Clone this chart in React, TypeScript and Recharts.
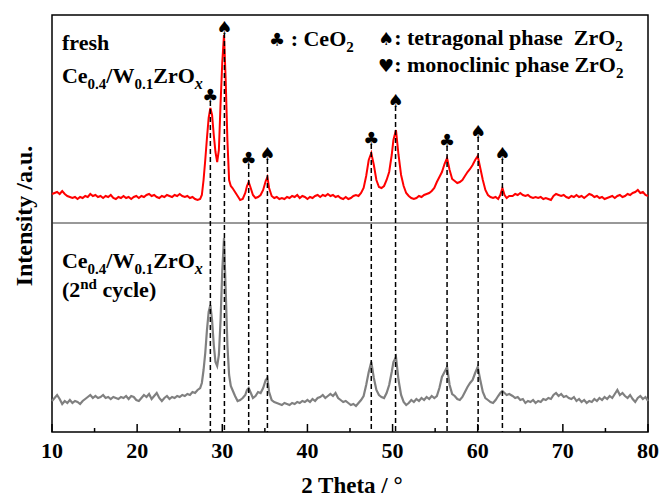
import React from "react";
import {
  ComposedChart, Line, XAxis, YAxis,
  ReferenceLine, ReferenceArea, ReferenceDot,
} from "recharts";

// 2θ grid (deg), shared by both patterns
const TWO_THETA = [
  10.0, 10.3, 10.6, 10.9, 11.2, 11.5, 11.8, 12.1, 12.4, 12.7,
  13.0, 13.3, 13.6, 13.9, 14.2, 14.5, 14.8, 15.1, 15.4, 15.7,
  16.0, 16.3, 16.6, 16.9, 17.2, 17.5, 17.8, 18.1, 18.4, 18.7,
  19.0, 19.3, 19.6, 19.9, 20.2, 20.5, 20.8, 21.1, 21.4, 21.7,
  22.0, 22.3, 22.6, 22.9, 23.2, 23.5, 23.8, 24.1, 24.4, 24.7,
  25.0, 25.3, 25.6, 25.9, 26.2, 26.5, 26.8, 27.1,
  27.4, 27.6, 27.8, 28.0, 28.2, 28.4, 28.6, 28.8, 29.0, 29.2,
  29.4, 29.6, 29.8, 30.0, 30.2, 30.4, 30.6, 30.8, 31.0, 31.2,
  31.5, 31.8, 32.1, 32.4, 32.7, 32.9, 33.1, 33.3, 33.6, 33.9,
  34.2, 34.5, 34.8, 35.1, 35.3, 35.5, 35.8, 36.1,
  36.4, 36.7, 37.0, 37.3, 37.6, 37.9, 38.2, 38.5, 38.8, 39.1,
  39.4, 39.7, 40.0, 40.3, 40.6, 40.9, 41.2, 41.5, 41.8, 42.1,
  42.4, 42.7, 43.0, 43.3, 43.6, 43.9, 44.2, 44.5, 44.8, 45.1,
  45.4, 45.7,
  46.0, 46.3, 46.6, 46.9, 47.2, 47.5, 47.8, 48.1, 48.4, 48.7,
  49.0, 49.3, 49.6, 49.9, 50.1, 50.4, 50.7, 51.0, 51.3, 51.6,
  51.9, 52.2, 52.5, 52.8, 53.1, 53.4, 53.7, 54.0, 54.3, 54.6,
  54.9, 55.2, 55.5, 55.8, 56.1, 56.4, 56.7, 57.0, 57.3, 57.6,
  57.9, 58.2, 58.5, 58.8, 59.1, 59.4, 59.7, 60.0, 60.3, 60.6,
  60.9, 61.2, 61.5, 61.8, 62.1, 62.4, 62.65, 62.9, 63.15, 63.4,
  63.7,
  64.1, 64.4, 64.7, 65.0, 65.3, 65.6, 65.9, 66.2, 66.5, 66.8,
  67.1, 67.4, 67.7, 68.0, 68.3, 68.6, 68.9, 69.2, 69.5, 69.8,
  70.1, 70.4, 70.7, 71.0, 71.3, 71.6, 71.9, 72.2, 72.5, 72.8,
  73.1, 73.4, 73.7, 74.0, 74.3, 74.6, 74.9, 75.2, 75.5, 75.8,
  76.1, 76.4, 76.7, 77.0, 77.3, 77.6, 77.9, 78.2, 78.5, 78.8,
  79.1, 79.4, 79.7, 80.0,
];

// fresh Ce0.4/W0.1ZrOx (red), already stacked above the other pattern
const FRESH = [
  238, 239, 240, 238, 241, 238, 236, 235, 234, 235,
  233, 235, 234, 236, 235, 238, 236, 237, 235, 236,
  234, 236, 235, 237, 234, 233, 235, 234, 236, 234,
  235, 233, 235, 236, 234, 236, 235, 237, 238, 236,
  237, 235, 234, 236, 235, 237, 236, 235, 237, 236,
  238, 236, 235, 236, 234, 235, 233, 232,
  233, 237, 252, 272, 294, 314, 324, 317, 297, 280,
  270, 282, 329, 370, 397, 352, 292, 252, 246, 244,
  240, 236, 232, 233, 239, 246, 250, 245, 237, 234,
  235, 237, 242, 251, 255, 244, 236, 234,
  235, 233, 234, 233, 235, 234, 236, 235, 237, 234,
  236, 235, 233, 235, 234, 236, 237, 235, 237, 236,
  238, 236, 237, 235, 236, 234, 233, 235, 233, 234,
  236, 237,
  236, 239, 244, 256, 272, 279, 267, 252, 245, 244,
  246, 252, 260, 277, 292, 302, 277, 257, 246, 239,
  236, 234, 233, 234, 236, 235, 237, 238, 239, 241,
  244, 250, 255, 260, 268, 274, 262, 253, 251, 249,
  250, 252, 256, 260, 263, 267, 272, 276, 264, 252,
  242, 237, 235, 234, 235, 233, 237, 244, 237, 234,
  236,
  236, 238, 237, 239, 237, 236, 237, 235, 234, 235,
  234, 235, 233, 234, 233, 232, 236, 238, 237, 236,
  237, 235, 234, 236, 235, 237, 235, 236, 234, 236,
  238, 237, 235, 236, 234, 235, 233, 234, 235, 236,
  234, 236, 237, 235, 236, 238, 237, 239, 240, 242,
  239, 240, 237, 236,
];

// Ce0.4/W0.1ZrOx after the 2nd cycle (grey)
const CYCLE2 = [
  31, 34, 37, 33, 28, 31, 29, 32, 29, 31,
  30, 28, 31, 33, 35, 37, 34, 36, 34, 35,
  37, 34, 35, 33, 35, 34, 33, 35, 34, 36,
  33, 36, 35, 32, 31, 34, 37, 35, 38, 33,
  36, 39, 34, 31, 34, 36, 33, 35, 34, 36,
  35, 37, 36, 38, 37, 40, 39, 42,
  44, 49, 62, 79, 102, 120, 127, 112, 87, 70,
  66, 77, 112, 162, 194, 142, 87, 57, 46, 42,
  36, 31, 32, 34, 37, 42, 44, 40, 34, 36,
  40, 39, 44, 52, 54, 40, 32, 30,
  29, 28, 27, 29, 28, 27, 29, 28, 30, 29,
  31, 30, 32, 30, 33, 31, 34, 35, 37, 34,
  36, 38, 36, 39, 34, 32, 30, 31, 29, 27,
  28, 26,
  29, 32, 36, 47, 60, 70, 54, 42, 37, 35,
  34, 39, 47, 60, 70, 75, 52, 37, 30, 27,
  29, 32, 30, 33, 31, 34, 32, 35, 33, 36,
  34, 36, 44, 55, 60, 65, 47, 38, 36, 33,
  32, 35, 40, 45, 49, 52, 59, 65, 52, 40,
  34, 32, 30, 29, 32, 36, 39, 41, 39, 37,
  38,
  36, 34, 35, 32, 33, 29, 31, 30, 32, 29,
  31, 30, 33, 32, 34, 33, 37, 39, 36, 38,
  35, 36, 34, 33, 35, 31, 33, 30, 32, 29,
  31, 30, 33, 31, 34, 32, 35, 33, 36, 34,
  38, 42, 37, 39, 36, 34, 37, 33, 30, 34,
  36, 33, 35, 31,
];

const X_TICKS = [10, 15, 20, 25, 30, 35, 40, 45, 50, 55, 60, 65, 70, 75, 80];
const Y_MAX = 417;
const DIVIDER = 209;

// indexed reflections: position, phase (c = CeO2, t = tetragonal ZrO2), top of the dashed marker
const PEAK_POS = [28.6, 30.25, 33.1, 35.3, 47.5, 50.35, 56.4, 60.05, 62.9];
const PEAK_PHASE = ["c", "t", "c", "t", "c", "t", "c", "t", "t"];
const PEAK_TOP = [331, 399, 268, 273, 288, 326, 286, 295, 273];

const SERIF = "'Liberation Serif', 'Times New Roman', serif";
const SYMBOL = "'DejaVu Sans', sans-serif";
const GLYPH: Record<string, string> = { c: "\u2663", t: "\u2660", m: "\u2665" };

const bold = { fontFamily: SERIF, fontWeight: 700, fontSize: 22, fill: "#000" };

function XTick(props: any) {
  const { x, y, payload } = props;
  const major = payload.value % 10 === 0;
  return (
    <g>
      <line x1={x} x2={x} y1={y} y2={y - (major ? 8 : 4)} stroke="#000" strokeWidth={1.5} />
      {major && (
        <text x={x} y={y + 26} textAnchor="middle" {...bold}>{payload.value}</text>
      )}
    </g>
  );
}

function XTitle(props: any) {
  const vb = props.viewBox;
  return (
    <text x={vb.x + vb.width / 2 + 2} y={493} textAnchor="middle" {...bold} fontSize={23}>
      2 Theta / °
    </text>
  );
}

function YTitle({ cx, cy }: { cx: number; cy: number }) {
  return (
    <text x={cx} y={cy} transform={`rotate(-90 ${cx} ${cy})`} textAnchor="middle" {...bold} fontSize={24}>
      Intensity /a.u.
    </text>
  );
}

function PeakMark({ cx, cy, phase }: { cx: number; cy: number; phase: string }) {
  return (
    <text x={cx} y={cy + 1} textAnchor="middle" fontFamily={SYMBOL} fontSize={18} fill="#000">
      {GLYPH[phase]}
    </text>
  );
}

function SampleName({ cx, cy }: { cx: number; cy: number }) {
  return (
    <text x={cx} y={cy} {...bold}>
      Ce<tspan fontSize={15} dy={6}>0.4</tspan>
      <tspan dy={-6}>/W</tspan>
      <tspan fontSize={15} dy={6}>0.1</tspan>
      <tspan dy={-6}>ZrO</tspan>
      <tspan fontSize={16} dy={6} fontStyle="italic">x</tspan>
    </text>
  );
}

function LegendRow({ cx, cy, glyph, label, sub }: { cx: number; cy: number; glyph: string; label: string; sub: boolean }) {
  return (
    <text x={cx} y={cy} {...bold} style={{ whiteSpace: "pre" }}>
      <tspan fontFamily={SYMBOL} fontWeight={400} fontSize={18}>{glyph}</tspan>
      {label}
      {sub && <tspan fontSize={15} dy={6}>2</tspan>}
    </text>
  );
}

export default function App() {
  const rows = TWO_THETA.map((t, i) => ({ t, fresh: FRESH[i], cycle2: CYCLE2[i] }));

  return (
    <div style={{ position: "absolute", left: 0, top: 0, width: 660, height: 500, background: "#fff" }}>
      <ComposedChart width={660} height={500} data={rows} margin={{ top: 15, right: 12, bottom: 28, left: 52 }}>
        <XAxis
          dataKey="t"
          type="number"
          domain={[10, 80]}
          ticks={X_TICKS}
          interval={0}
          tickSize={0}
          tickMargin={0}
          tickLine={false}
          axisLine={false}
          height={40}
          tick={<XTick />}
          label={<XTitle />}
        />
        <YAxis type="number" domain={[0, Y_MAX]} width={0} tick={false} tickLine={false} axisLine={false} />
        <ReferenceArea x1={10} x2={80} y1={0} y2={Y_MAX} fill="none" stroke="#000" strokeWidth={1.5} />
        <ReferenceLine y={DIVIDER} stroke="#333" strokeWidth={1} />

        <Line dataKey="cycle2" type="linear" stroke="#808080" strokeWidth={2.2} dot={false} isAnimationActive={false} />
        <Line dataKey="fresh" type="linear" stroke="#ff0000" strokeWidth={2} dot={false} isAnimationActive={false} />

        {PEAK_POS.map((p, i) => (
          <ReferenceLine
            key={"l" + i}
            segment={[{ x: p, y: PEAK_TOP[i] }, { x: p, y: 0 }]}
            stroke="#000"
            strokeWidth={1.5}
            strokeDasharray="5 3"
          />
        ))}
        {PEAK_POS.map((p, i) => (
          <ReferenceDot
            key={"s" + i}
            x={p}
            y={PEAK_TOP[i]}
            r={0}
            shape={(d: any) => <PeakMark cx={d.cx} cy={d.cy} phase={PEAK_PHASE[i]} />}
          />
        ))}

        {/* y-axis title, left of the frame */}
        <ReferenceDot x={7.65} y={216} r={0} ifOverflow="visible" shape={(d: any) => <YTitle cx={d.cx} cy={d.cy} />} />

        {/* sample labels */}
        <ReferenceDot x={11.17} y={382} r={0} shape={(d: any) => <text x={d.cx} y={d.cy} {...bold}>fresh</text>} />
        <ReferenceDot x={11.17} y={349} r={0} shape={(d: any) => <SampleName cx={d.cx} cy={d.cy} />} />
        <ReferenceDot x={11.17} y={164} r={0} shape={(d: any) => <SampleName cx={d.cx} cy={d.cy} />} />
        <ReferenceDot
          x={11.17}
          y={135}
          r={0}
          shape={(d: any) => (
            <text x={d.cx} y={d.cy} {...bold}>
              (2<tspan fontSize={15} dy={-8}>nd</tspan>
              <tspan dy={8}> cycle)</tspan>
            </text>
          )}
        />

        {/* phase legend */}
        <ReferenceDot x={35.49} y={386} r={0} shape={(d: any) => <LegendRow cx={d.cx} cy={d.cy} glyph={GLYPH.c} label=" : CeO" sub />} />
        <ReferenceDot x={48.29} y={387} r={0} shape={(d: any) => <LegendRow cx={d.cx} cy={d.cy} glyph={GLYPH.t} label=": tetragonal phase  ZrO" sub />} />
        <ReferenceDot x={48.29} y={360} r={0} shape={(d: any) => <LegendRow cx={d.cx} cy={d.cy} glyph={GLYPH.m} label=": monoclinic phase ZrO" sub />} />
      </ComposedChart>
    </div>
  );
}
